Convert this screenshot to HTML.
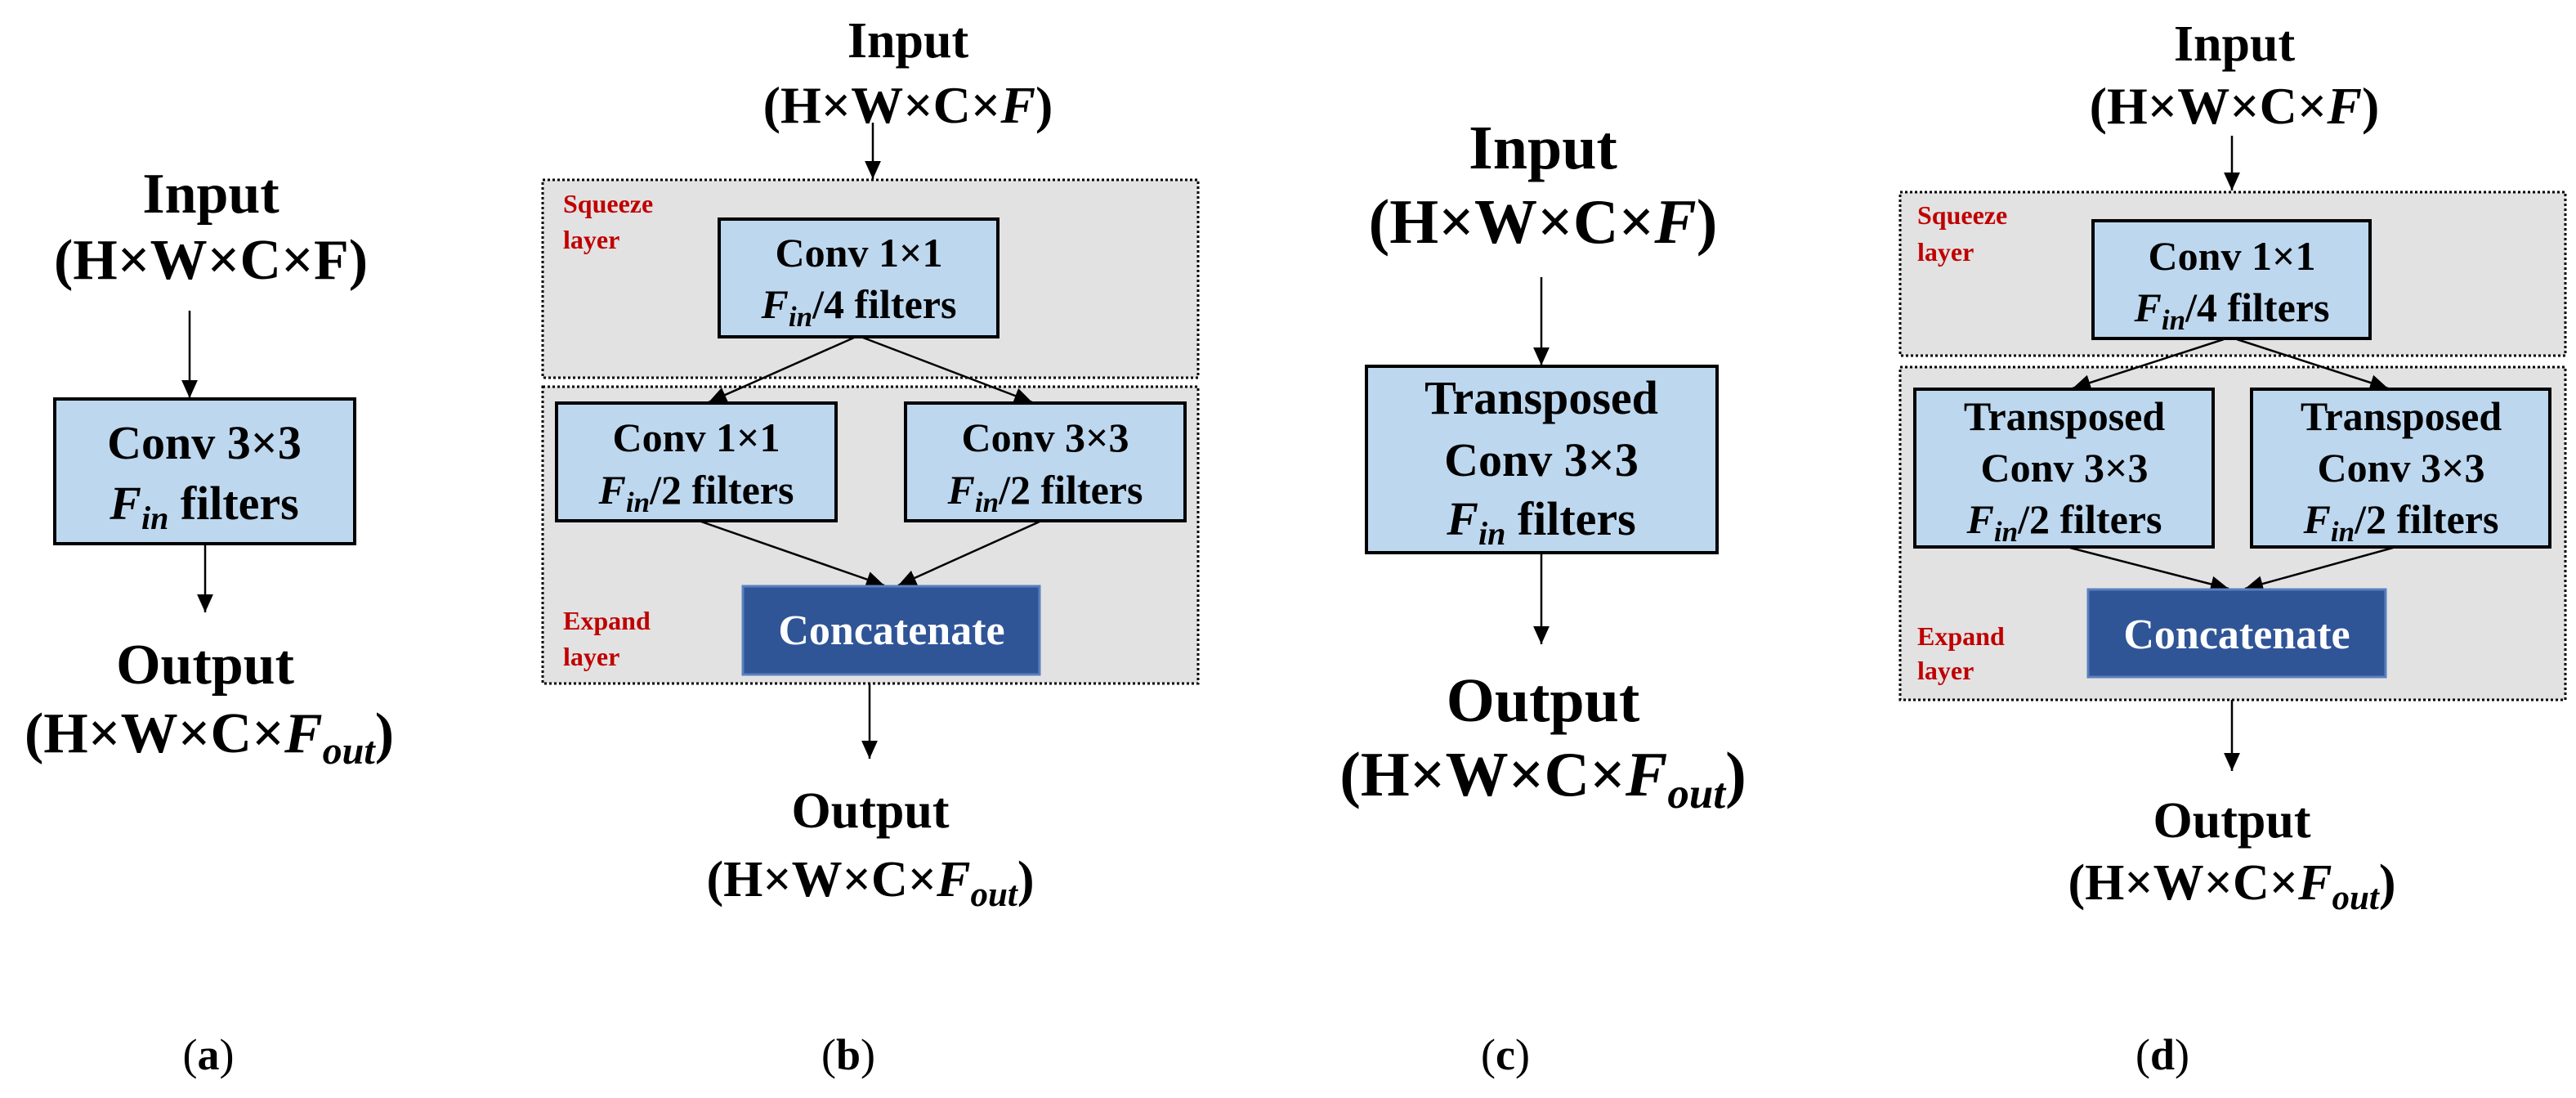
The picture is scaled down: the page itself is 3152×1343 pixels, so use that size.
<!DOCTYPE html>
<html><head><meta charset="utf-8"><style>
html,body{margin:0;padding:0;background:#fff;}
svg{display:block;}
text{font-family:"Liberation Serif",serif;font-weight:bold;fill:#000;}
.r{fill:#c00000;font-size:32px;}
.lb{font-weight:normal;font-size:54px;}
.w{fill:#fff;}
</style></head><body>
<svg width="3152" height="1343" viewBox="0 0 3152 1343" xmlns="http://www.w3.org/2000/svg">
<defs><marker id="a" viewBox="0 0 10 10" refX="10" refY="5" markerWidth="22" markerHeight="24" markerUnits="userSpaceOnUse" orient="auto"><path d="M0,0.5 L10,5 L0,9.5 z" fill="#000"/></marker></defs>
<g fill="#e2e2e2" stroke="#000" stroke-width="3" stroke-dasharray="3,3">
<rect x="664" y="220" width="802" height="242"/><rect x="664" y="473" width="802" height="363"/>
<rect x="2325" y="235" width="814" height="200"/><rect x="2325" y="449" width="814" height="407"/>
</g>
<g stroke="#000" stroke-width="2.5" fill="none" marker-end="url(#a)">
<line x1="232" y1="380" x2="232" y2="487"/><line x1="251" y1="667" x2="251" y2="749"/>
<line x1="1068" y1="150" x2="1068" y2="219"/>
<line x1="1045" y1="413" x2="867" y2="492"/><line x1="1056" y1="413" x2="1263" y2="492"/>
<line x1="858" y1="638" x2="1082" y2="716"/><line x1="1272" y1="638" x2="1099" y2="716"/>
<line x1="1064" y1="836" x2="1064" y2="928"/>
<line x1="1886" y1="339" x2="1886" y2="447"/><line x1="1886" y1="677" x2="1886" y2="788"/>
<line x1="2731" y1="166" x2="2731" y2="233"/>
<line x1="2721" y1="415" x2="2536" y2="475"/><line x1="2737" y1="415" x2="2922" y2="475"/>
<line x1="2533" y1="670" x2="2727" y2="720"/><line x1="2928" y1="670" x2="2747" y2="720"/>
<line x1="2731" y1="856" x2="2731" y2="943"/>
</g>
<g fill="#bdd7ee" stroke="#000" stroke-width="4">
<rect x="67" y="488" width="367" height="177"/>
<rect x="880" y="268" width="341" height="144"/><rect x="681" y="493" width="342" height="144"/><rect x="1108" y="493" width="342" height="144"/>
<rect x="1672" y="448" width="429" height="228"/>
<rect x="2561" y="270" width="339" height="144"/><rect x="2343" y="476" width="365" height="193"/><rect x="2755" y="476" width="365" height="193"/>
</g>
<g fill="#2f5597" stroke="#5b7fbf" stroke-width="3">
<rect x="909" y="717" width="363" height="108"/><rect x="2555" y="721" width="364" height="107"/>
</g>
<g text-anchor="middle">
<text x="258" y="260" font-size="70">Input</text>
<text x="258" y="341" font-size="70">(H×W×C×F)</text>
<text x="250" y="561" font-size="58">Conv 3×3</text>
<text x="250" y="635" font-size="58"><tspan font-style="italic">F</tspan><tspan font-style="italic" font-size="40" dy="12">in</tspan><tspan dy="-12"> filters</tspan></text>
<text x="251" y="836" font-size="70">Output</text>
<text x="256" y="920" font-size="70">(H×W×C×<tspan font-style="italic">F</tspan><tspan font-style="italic" font-size="48" dy="14">out</tspan><tspan dy="-14">)</tspan></text>

<text x="1111" y="70" font-size="62">Input</text>
<text x="1111" y="150" font-size="64">(H×W×C×<tspan font-style="italic">F</tspan>)</text>
<text x="1051" y="326" font-size="50">Conv 1×1</text>
<text x="1051" y="389" font-size="50"><tspan font-style="italic">F</tspan><tspan font-style="italic" font-size="35" dy="10">in</tspan><tspan dy="-10">/4 filters</tspan></text>
<text x="852" y="552" font-size="50">Conv 1×1</text>
<text x="852" y="616" font-size="50"><tspan font-style="italic">F</tspan><tspan font-style="italic" font-size="35" dy="10">in</tspan><tspan dy="-10">/2 filters</tspan></text>
<text x="1279" y="552" font-size="50">Conv 3×3</text>
<text x="1279" y="616" font-size="50"><tspan font-style="italic">F</tspan><tspan font-style="italic" font-size="35" dy="10">in</tspan><tspan dy="-10">/2 filters</tspan></text>
<text x="1091" y="788" font-size="52" style="fill:#fff">Concatenate</text>
<text x="1065" y="1012" font-size="62">Output</text>
<text x="1065" y="1096" font-size="62">(H×W×C×<tspan font-style="italic">F</tspan><tspan font-style="italic" font-size="43" dy="12">out</tspan><tspan dy="-12">)</tspan></text>

<text x="1888" y="206" font-size="76">Input</text>
<text x="1888" y="297" font-size="77">(H×W×C×<tspan font-style="italic">F</tspan>)</text>
<text x="1886" y="506" font-size="58">Transposed</text>
<text x="1886" y="582" font-size="58">Conv 3×3</text>
<text x="1886" y="654" font-size="58"><tspan font-style="italic">F</tspan><tspan font-style="italic" font-size="40" dy="12">in</tspan><tspan dy="-12"> filters</tspan></text>
<text x="1888" y="882" font-size="76">Output</text>
<text x="1888" y="973" font-size="77">(H×W×C×<tspan font-style="italic">F</tspan><tspan font-style="italic" font-size="53" dy="15">out</tspan><tspan dy="-15">)</tspan></text>

<text x="2734" y="74" font-size="62">Input</text>
<text x="2734" y="151" font-size="64">(H×W×C×<tspan font-style="italic">F</tspan>)</text>
<text x="2731" y="330" font-size="50">Conv 1×1</text>
<text x="2731" y="393" font-size="50"><tspan font-style="italic">F</tspan><tspan font-style="italic" font-size="35" dy="10">in</tspan><tspan dy="-10">/4 filters</tspan></text>
<text x="2526" y="526" font-size="50">Transposed</text>
<text x="2526" y="589" font-size="50">Conv 3×3</text>
<text x="2526" y="652" font-size="50"><tspan font-style="italic">F</tspan><tspan font-style="italic" font-size="35" dy="10">in</tspan><tspan dy="-10">/2 filters</tspan></text>
<text x="2938" y="526" font-size="50">Transposed</text>
<text x="2938" y="589" font-size="50">Conv 3×3</text>
<text x="2938" y="652" font-size="50"><tspan font-style="italic">F</tspan><tspan font-style="italic" font-size="35" dy="10">in</tspan><tspan dy="-10">/2 filters</tspan></text>
<text x="2737" y="793" font-size="52" style="fill:#fff">Concatenate</text>
<text x="2731" y="1024" font-size="62">Output</text>
<text x="2731" y="1100" font-size="62">(H×W×C×<tspan font-style="italic">F</tspan><tspan font-style="italic" font-size="43" dy="12">out</tspan><tspan dy="-12">)</tspan></text>

<text class="lb" x="255" y="1308">(<tspan font-weight="bold">a</tspan>)</text>
<text class="lb" x="1038" y="1308">(<tspan font-weight="bold">b</tspan>)</text>
<text class="lb" x="1842" y="1308">(<tspan font-weight="bold">c</tspan>)</text>
<text class="lb" x="2646" y="1308">(<tspan font-weight="bold">d</tspan>)</text>
</g>
<text class="r" x="689" y="260">Squeeze</text><text class="r" x="689" y="304">layer</text>
<text class="r" x="689" y="770">Expand</text><text class="r" x="689" y="814">layer</text>
<text class="r" x="2346" y="274">Squeeze</text><text class="r" x="2346" y="319">layer</text>
<text class="r" x="2346" y="789">Expand</text><text class="r" x="2346" y="831">layer</text>
</svg>
</body></html>
